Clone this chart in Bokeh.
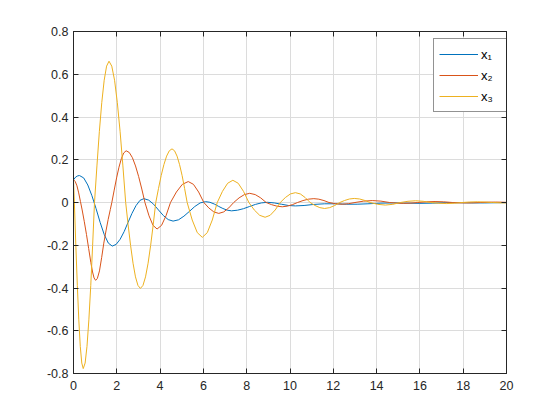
from bokeh.plotting import figure
from bokeh.models import (ColumnDataSource, FixedTicker, LinearAxis, Legend,
                          LegendItem, Range1d)
from bokeh.embed import file_html
from bokeh.resources import INLINE

# ---------------- data ----------------
t_x1 = [0, 0.1, 0.2, 0.28, 0.47, 0.66, 0.85, 1.04, 1.23, 1.42, 1.61, 1.79,
        1.97, 2.155, 2.34, 2.52, 2.70, 2.885, 3.07, 3.25, 3.475, 3.7, 3.925,
        4.15, 4.375, 4.6, 4.85, 5.1, 5.35, 5.6, 5.85, 6.1, 6.3, 6.5, 6.7,
        6.9, 7.1, 7.3, 7.575, 7.85, 8.125, 8.4, 8.675, 8.95, 9.275, 9.6,
        9.925, 10.25, 10.65, 11.1, 11.6, 12.1, 12.6, 13.1, 13.6, 14.2, 14.8,
        15.4, 16.0, 16.6, 17.2, 17.8, 18.4, 19.0, 19.6, 20.0]
x1 = [0.106, 0.119, 0.125, 0.126, 0.115, 0.082, 0.032, -0.028, -0.093,
      -0.15, -0.19, -0.204, -0.196, -0.172, -0.136, -0.093, -0.051, -0.015,
      0.010, 0.018, 0.011, -0.008, -0.035, -0.061, -0.080, -0.087, -0.081,
      -0.064, -0.042, -0.019, -0.002, 0.004, 0.001, -0.007, -0.018, -0.028,
      -0.036, -0.039, -0.036, -0.029, -0.019, -0.009, -0.002, 0.001, -0.002,
      -0.008, -0.014, -0.016, -0.014, -0.009, -0.006, -0.006, -0.008, -0.008,
      -0.006, -0.003, -0.002, -0.003, -0.004, -0.003, -0.001, -0.001, -0.002,
      -0.002, -0.001, -0.0005]

t_x2 = [0, 0.08, 0.16, 0.24, 0.32, 0.4, 0.5, 0.6, 0.7, 0.8, 0.88, 0.95,
        1.02, 1.1, 1.2, 1.3, 1.4, 1.5, 1.6, 1.7, 1.77, 1.88, 1.99, 2.1, 2.21,
        2.32, 2.43, 2.575, 2.72, 2.865, 3.01, 3.155, 3.3, 3.487, 3.673, 3.86,
        4.067, 4.273, 4.48, 4.753, 5.027, 5.3, 5.54, 5.78, 6.02, 6.25, 6.48,
        6.71, 6.94, 7.17, 7.4, 7.647, 7.893, 8.14, 8.393, 8.647, 8.9, 9.147,
        9.393, 9.64, 9.877, 10.113, 10.35, 10.6, 10.85, 11.1, 11.33, 11.57,
        11.8, 12.1, 12.41, 12.7, 13.0, 13.4, 13.8, 14.2, 14.6, 14.93, 15.25,
        15.58, 15.9, 16.3, 16.7, 17.1, 17.5, 17.82, 18.15, 18.47, 18.8,
        19.15, 19.5, 19.75, 20.0]
x2 = [0.106, 0.098, 0.078, 0.045, 0.005, -0.035, -0.09, -0.15, -0.215,
      -0.28, -0.325, -0.353, -0.364, -0.356, -0.32, -0.258, -0.19, -0.133,
      -0.08, -0.033, 0.0, 0.058, 0.115, 0.165, 0.205, 0.232, 0.242, 0.234,
      0.21, 0.171, 0.121, 0.063, 0.0, -0.062, -0.107, -0.124, -0.107, -0.062,
      0.0, 0.049, 0.085, 0.098, 0.085, 0.049, 0.0, -0.0255, -0.044, -0.051,
      -0.044, -0.0255, 0.0, 0.0215, 0.037, 0.043, 0.037, 0.0215, 0.0, -0.01,
      -0.017, -0.02, -0.017, -0.01, 0.0, 0.009, 0.0156, 0.018, 0.0156, 0.009,
      0.0, -0.0057, -0.008, -0.0057, 0.0, 0.0064, 0.009, 0.0064, 0.0, -0.0028,
      -0.004, -0.0028, 0.0, 0.0032, 0.0045, 0.0032, 0.0, -0.0014, -0.002,
      -0.0014, 0.0, 0.0014, 0.002, 0.0015, 0.0008]

t_x3 = [0, 0.04, 0.108, 0.177, 0.245, 0.313, 0.382, 0.45, 0.537, 0.623,
        0.71, 0.797, 0.883, 0.97, 1.082, 1.193, 1.305, 1.417, 1.528, 1.64,
        1.768, 1.897, 2.025, 2.153, 2.282, 2.41, 2.523, 2.637, 2.75, 2.863,
        2.977, 3.09, 3.208, 3.327, 3.445, 3.563, 3.682, 3.8, 3.925, 4.05,
        4.175, 4.3, 4.425, 4.55, 4.667, 4.783, 4.9, 5.017, 5.133, 5.25, 5.483,
        5.717, 5.95, 6.18, 6.41, 6.64, 6.88, 7.12, 7.36, 7.607, 7.853, 8.1,
        8.35, 8.6, 8.85, 9.083, 9.317, 9.55, 9.783, 10.017, 10.25, 10.477,
        10.703, 10.93, 11.153, 11.377, 11.6, 11.833, 12.067, 12.3, 12.523,
        12.747, 12.97, 13.213, 13.457, 13.7, 14.05, 14.4, 14.75, 15.1, 15.45,
        15.8, 16.15, 16.5, 16.86, 17.22, 17.59, 17.95, 18.3, 18.65, 19.0,
        19.35, 19.7, 20.0]
x3 = [0.106, 0.0, -0.201, -0.389, -0.549, -0.673, -0.751, -0.777, -0.751,
      -0.673, -0.549, -0.389, -0.201, 0.0, 0.171, 0.331, 0.467, 0.572, 0.638,
      0.661, 0.638, 0.572, 0.467, 0.331, 0.171, 0.0, -0.104, -0.201, -0.284,
      -0.348, -0.388, -0.402, -0.388, -0.348, -0.284, -0.201, -0.104, 0.0,
      0.065, 0.126, 0.177, 0.217, 0.242, 0.251, 0.242, 0.217, 0.177, 0.126,
      0.065, 0.0, -0.082, -0.141, -0.163, -0.141, -0.082, 0.0, 0.052, 0.09,
      0.104, 0.09, 0.052, 0.0, -0.035, -0.06, -0.069, -0.06, -0.035, 0.0,
      0.023, 0.04, 0.046, 0.04, 0.023, 0.0, -0.014, -0.024, -0.028, -0.024,
      -0.014, 0.0, 0.0095, 0.0165, 0.019, 0.0165, 0.0095, 0.0, -0.0085,
      -0.012, -0.0085, 0.0, 0.0057, 0.008, 0.0057, 0.0, -0.0035, -0.005,
      -0.0035, 0.0, 0.0023, 0.0033, 0.0023, 0.0, -0.0015, -0.002]

series_labels = ["x\u2081", "x\u2082", "x\u2083"]
series_colors = ["#0072BD", "#D95319", "#EDB120"]

x_ticks = [0, 2, 4, 6, 8, 10, 12, 14, 16, 18, 20]
x_tick_labels = ["0", "2", "4", "6", "8", "10", "12", "14", "16", "18", "20"]
y_ticks = [-0.8, -0.6, -0.4, -0.2, 0, 0.2, 0.4, 0.6, 0.8]
y_tick_labels = ["-0.8", "-0.6", "-0.4", "-0.2", "0", "0.2", "0.4", "0.6", "0.8"]

# ---------------- figure ----------------
FONT = "Liberation Sans"
AXC = "#262626"

p = figure(width=560, height=420, output_backend="svg", toolbar_location=None,
           x_range=Range1d(0, 20), y_range=Range1d(-0.8, 0.8),
           min_border_left=73, min_border_right=54, min_border_top=31,
           min_border_bottom=47)
p.background_fill_color = "white"
p.border_fill_color = "white"
p.outline_line_color = AXC
p.outline_line_width = 1

for ax, ticks, labels in ((p.xaxis[0], x_ticks, x_tick_labels),
                          (p.yaxis[0], y_ticks, y_tick_labels)):
    ax.ticker = FixedTicker(ticks=ticks)
    ax.major_label_overrides = {t: l for t, l in zip(ticks, labels)}
    ax.major_tick_in = 5
    ax.major_tick_out = 0
    ax.minor_tick_line_color = None
    ax.axis_line_color = AXC
    ax.major_tick_line_color = AXC
    ax.major_label_text_font = FONT
    ax.major_label_text_font_size = "12.5px"
    ax.major_label_text_color = AXC
p.xaxis[0].major_label_standoff = 7
p.yaxis[0].major_label_standoff = 5

# mirrored ticks (box on)
for loc, ticks in (("above", x_ticks), ("right", y_ticks)):
    ax = LinearAxis(ticker=FixedTicker(ticks=ticks))
    ax.major_tick_in = 5
    ax.major_tick_out = 0
    ax.minor_tick_line_color = None
    ax.axis_line_color = AXC
    ax.major_tick_line_color = AXC
    ax.major_label_text_color = None
    ax.major_label_text_font_size = "1px"
    ax.major_label_standoff = 0
    p.add_layout(ax, loc)

p.xgrid.ticker = FixedTicker(ticks=x_ticks)
p.ygrid.ticker = FixedTicker(ticks=y_ticks)
for g in (p.xgrid[0], p.ygrid[0]):
    g.grid_line_color = "#dcdcdc"
    g.grid_line_width = 1

items = []
for tt, vv, lab, col in zip((t_x1, t_x2, t_x3), (x1, x2, x3),
                            series_labels, series_colors):
    src = ColumnDataSource(dict(t=tt, v=vv))
    r = p.line("t", "v", source=src, line_color=col, line_width=1)
    items.append(LegendItem(label=lab, renderers=[r]))

legend = Legend(items=items, location=(360, 261))
legend.border_line_color = AXC
legend.border_line_width = 1
legend.background_fill_color = "white"
legend.background_fill_alpha = 1
legend.padding = 5
legend.margin = 0
legend.spacing = 1
legend.glyph_width = 39
legend.glyph_height = 20
legend.label_height = 20
legend.label_standoff = 3
legend.label_text_font = FONT
legend.label_text_font_size = "13px"
legend.label_text_color = "black"
p.add_layout(legend, "center")

open("out.html", "w").write(file_html(p, INLINE))
